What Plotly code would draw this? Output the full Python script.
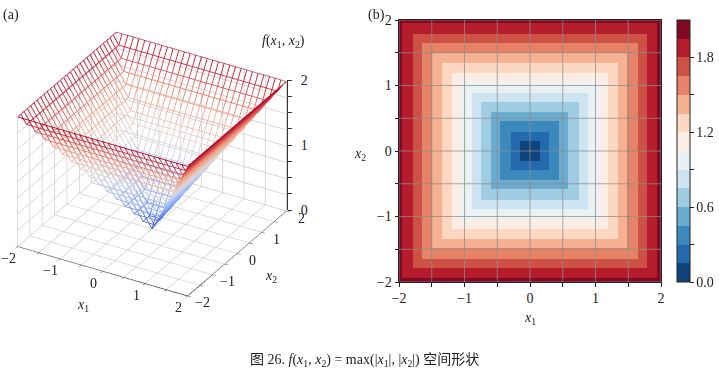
import plotly.graph_objects as go

# Wireframe grid (30 cells per side) and finer grid for the filled map
wire_x = [-2.0 + i * 4 / 30 for i in range(31)]
fine_x = [-2.0 + i * 0.02 for i in range(201)]

axis_ticks = [-2, -1.5, -1, -0.5, 0, 0.5, 1, 1.5, 2]
axis_labels = ["\u22122", "", "\u22121", "", "0", "", "1", "", "2"]
label_ticks = [-2, -1, 0, 1, 2]
label_text = ["\u22122", "\u22121", "0", "1", "2"]
z_ticks = [0, 0.25, 0.5, 0.75, 1, 1.25, 1.5, 1.75, 2]
z_labels = ["0", "", "", "", "1", "", "", "", "2"]
cbar_ticks = [0.0, 0.3, 0.6, 0.9, 1.2, 1.5, 1.8]
cbar_labels = ["0.0", "", "0.6", "", "1.2", "", "1.8"]
level_colors = ["#0f437c", "#2369ae", "#3c89be", "#6aacd0", "#9fcce2", "#cde3ef", "#e9f1f4",
                "#f9ede6", "#fcd7c2", "#f6b191", "#e58267", "#ce5146", "#b51d2d", "#820923"]

FONT = "Liberation Serif, Noto Sans CJK SC"
INK = "#222222"
TXT = dict(xref="paper", yref="paper", showarrow=False, xanchor="center", yanchor="middle", font=dict(size=14))


def f(a, b):
    return max(abs(a), abs(b))


coolwarm = [[0, "#3b4cc0"], [0.25, "#8db0fe"], [0.5, "#dddcdc"], [0.75, "#f4987a"], [1, "#b40426"]]

lx, ly, lz, lc = [], [], [], []
for a in wire_x:
    for b in wire_x:
        lx.append(a); ly.append(b); lz.append(f(a, b)); lc.append(f(a, b))
    lx.append(None); ly.append(None); lz.append(None); lc.append(0)
for b in wire_x:
    for a in wire_x:
        lx.append(a); ly.append(b); lz.append(f(a, b)); lc.append(f(a, b))
    lx.append(None); ly.append(None); lz.append(None); lc.append(0)

fig = go.Figure()
fig.add_trace(go.Scatter3d(
    x=lx, y=ly, z=lz, mode="lines", showlegend=False, hoverinfo="skip",
    line=dict(width=1.7, color=lc, colorscale=coolwarm, cmin=0, cmax=2),
))

zz = [[round(f(a, b), 3) for a in fine_x] for b in fine_x]
n = len(level_colors)
scale = []
for i, c in enumerate(level_colors):
    scale += [[i / n, c], [(i + 1) / n, c]]
fig.add_trace(go.Heatmap(
    x=fine_x, y=fine_x, z=zz, xaxis="x", yaxis="y", colorscale=scale, zmin=0, zmax=2.1, zsmooth=False,
    hoverinfo="skip",
    colorbar=dict(
        thickness=13, thicknessmode="pixels", len=262, lenmode="pixels", xanchor="left", x=677 / 719,
        yanchor="top", y=1 - 20 / 370, ypad=0, xpad=0, outlinewidth=1, outlinecolor=INK,
        tickvals=cbar_ticks, ticktext=cbar_labels, ticks="outside", ticklen=3.5, tickwidth=0.8,
        tickcolor=INK, tickfont=dict(family=FONT, size=14, color=INK),
    ),
))

gx, gy = [], []
for t in axis_ticks:
    gx += [t, t, None]; gy += [-2, 2, None]
    gx += [-2, 2, None]; gy += [t, t, None]
fig.add_trace(go.Scatter(x=gx, y=gy, mode="lines", xaxis="x", yaxis="y", showlegend=False,
                         hoverinfo="skip", line=dict(color="rgba(140,140,140,0.75)", width=1)))
# Carrier for the overlay z axis of panel (a)
fig.add_trace(go.Scatter(x=[0], y=[0], mode="none", xaxis="x2", yaxis="y2", showlegend=False, hoverinfo="skip"))

common3d = dict(showbackground=False, gridcolor="#c8c8c8", gridwidth=1.4, showline=True, linecolor="#222222",
                linewidth=1.5, ticks="outside", ticklen=4, tickcolor="#333333", zeroline=False, showspikes=False,
                showticklabels=False, title=dict(text=""))
scene_notes = []
for t, s in zip(label_ticks, label_text):
    scene_notes.append(dict(x=t, y=-2, z=0, text=s, showarrow=False, xshift=-9, yshift=-12, font=dict(size=14)))
    scene_notes.append(dict(x=2, y=t, z=0, text=s, showarrow=False, xshift=15, yshift=-7, font=dict(size=14)))

fig.update_layout(
    width=719, height=370, margin=dict(l=0, r=0, t=0, b=0, autoexpand=False), paper_bgcolor="white", plot_bgcolor="white",
    font=dict(family=FONT, color=INK, size=14),
    scene=dict(
        domain=dict(x=[0, 304 / 719], y=[1 - 328 / 370, 1]),
        aspectmode="manual", aspectratio=dict(x=1.2, y=1.2, z=0.912),
        camera=dict(projection=dict(type="orthographic"), eye=dict(x=0.96, y=-1.65, z=1.1),
                    center=dict(x=0, y=0, z=0), up=dict(x=0, y=0, z=1)),
        xaxis=dict(range=[-2, 2], tickvals=axis_ticks, **common3d),
        yaxis=dict(range=[-2, 2], tickvals=axis_ticks, **common3d),
        zaxis=dict(range=[0, 2], tickvals=z_ticks, **{**common3d, "showline": False, "ticks": ""}),
        annotations=scene_notes,
    ),
    xaxis=dict(domain=[399 / 719, 661 / 719], range=[-2, 2], tickvals=axis_ticks, ticktext=axis_labels, ticks="outside", ticklen=3.5,
               tickwidth=0.8, tickcolor=INK, showline=True, linecolor=INK, linewidth=1, mirror=True, showgrid=False, zeroline=False,
               tickfont=dict(size=14)),
    yaxis=dict(domain=[1 - 282 / 370, 1 - 20 / 370], range=[-2, 2], tickvals=axis_ticks, ticktext=axis_labels, ticks="outside", ticklen=3.5,
               tickwidth=0.8, tickcolor=INK, showline=True, linecolor=INK, linewidth=1, mirror=True, showgrid=False, zeroline=False,
               tickfont=dict(size=14)),
    xaxis2=dict(domain=[0, 0.3], visible=False, range=[-1, 1]),
    yaxis2=dict(domain=[1 - 210 / 370, 1 - 80 / 370], range=[0, 2], anchor="free", position=287 / 719, side="right",
                tickvals=z_ticks, ticktext=z_labels, ticks="outside", ticklen=4, tickwidth=0.8, tickcolor="#333333",
                showline=True, linecolor="#333333", linewidth=1, showgrid=False, zeroline=False, tickfont=dict(size=14),
                ticklabelstandoff=6),
    annotations=[
        dict(text="(a)", x=1 / 719, y=1 - 15 / 370, **{**TXT, "xanchor": "left"}),
        dict(text="(b)", x=366 / 719, y=1 - 15 / 370, **{**TXT, "xanchor": "left"}),
        dict(text="<i>f</i>(<i>x</i><sub>1</sub>, <i>x</i><sub>2</sub>)", x=283 / 719, y=1 - 42 / 370, **TXT),
        dict(text="<i>x</i><sub>1</sub>", x=83 / 719, y=1 - 305 / 370, **TXT),
        dict(text="<i>x</i><sub>2</sub>", x=271 / 719, y=1 - 276 / 370, **TXT),
        dict(text="<i>x</i><sub>1</sub>", x=530 / 719, y=1 - 318 / 370, **TXT),
        dict(text="<i>x</i><sub>2</sub>", x=360 / 719, y=1 - 154 / 370, **TXT),
        dict(text="图 26. <i>f</i>(<i>x</i><sub>1</sub>, <i>x</i><sub>2</sub>) = max(|<i>x</i><sub>1</sub>|, |<i>x</i><sub>2</sub>|) 空间形状",
             x=365 / 719, y=1 - 360 / 370, **TXT),
    ],
)
fig.write_html("out.html", config=dict(displayModeBar=False),
               post_script="document.body.style.margin='0';document.body.style.overflow='hidden';")
